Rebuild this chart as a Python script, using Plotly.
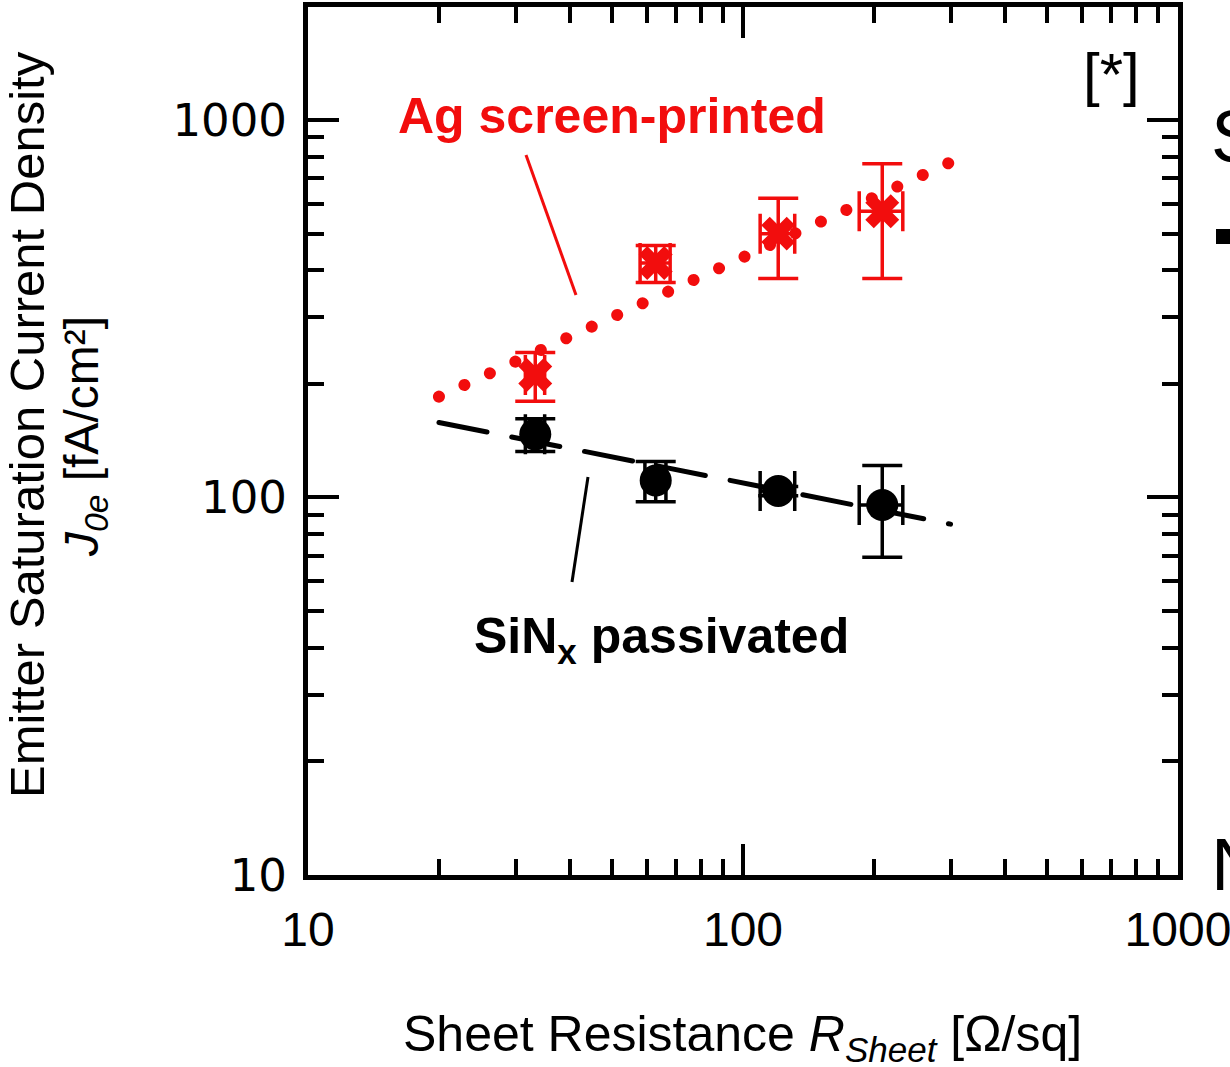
import plotly.graph_objects as go

# Sheet resistance of the four emitters [Ohm/sq]
rsheet = [33.3, 63.0, 120.5, 209.0]

# SiNx-passivated emitters
j0e_sinx = [147, 111, 104, 95.5]
j0e_sinx_err = [14.7, 13.5, 3, 26]
rsheet_err_sinx = [1.7, 3.5, 11, 24]

# Ag screen-printed (metallised) emitters
j0e_ag = [211, 418, 500, 573]
j0e_ag_err = [31, 47, 120, 193]
rsheet_err_ag = [1.7, 5, 11, 24]

# Power-law trend lines (end points)
fit_rsheet = [20, 300]
fit_ag = [185, 773]
fit_sinx = [158, 85]

RED = "#f20d0d"
BLACK = "#000000"

W, H = 1230, 1067
ML, MR, MT, MB = 308, 52, 7, 192
PW, PH = W - ML - MR, H - MT - MB


def px(x, y):
    """Pixel position on the page -> paper coordinates."""
    return (x - ML) / PW, (H - MB - y) / PH


fig = go.Figure()

# trend lines
fig.add_trace(go.Scatter(
    x=fit_rsheet, y=fit_ag, mode="lines",
    line=dict(color=RED, width=12, dash="0.01px,28px"),
    hoverinfo="skip", showlegend=False))
fig.add_trace(go.Scatter(
    x=fit_rsheet, y=fit_sinx, mode="lines",
    line=dict(color=BLACK, width=5, dash="49px,25.2px"),
    hoverinfo="skip", showlegend=False))

# measured data
fig.add_trace(go.Scatter(
    x=rsheet, y=j0e_sinx, mode="markers", name="SiNx passivated",
    marker=dict(symbol="circle", size=32, color=BLACK),
    error_y=dict(type="data", array=j0e_sinx_err, color=BLACK, thickness=3.5, width=20),
    error_x=dict(type="data", array=rsheet_err_sinx, color=BLACK, thickness=3.5, width=20),
    showlegend=False))
fig.add_trace(go.Scatter(
    x=rsheet, y=j0e_ag, mode="markers", name="Ag screen-printed",
    marker=dict(symbol="x", size=30, color=RED, line=dict(width=0)),
    error_y=dict(type="data", array=j0e_ag_err, color=RED, thickness=3.5, width=20),
    error_x=dict(type="data", array=rsheet_err_ag, color=RED, thickness=3.5, width=20),
    showlegend=False))

axis_common = dict(
    type="log",
    showline=True, linewidth=5, linecolor=BLACK,
    mirror="ticks",
    ticks="inside", ticklen=31, tickwidth=4, tickcolor=BLACK,
    minor=dict(ticks="inside", ticklen=16, tickwidth=4, tickcolor=BLACK, dtick="D1"),
    showgrid=False, zeroline=False,
    dtick=1,
    ticklabeloverflow="allow",
    automargin=False,
)

fig.update_xaxes(
    **axis_common,
    range=[1, 3],
    tickvals=[10, 100, 1000], ticktext=["10", "100", "1000"],
    tickfont=dict(family="Liberation Sans, Arial", size=48, color=BLACK),
    ticklabelstandoff=8,
)
fig.update_yaxes(
    **axis_common,
    range=[1, 3.2993],
    tickvals=[10, 100, 1000], ticktext=["10", "100", "1000"],
    tickfont=dict(family="DejaVu Sans, Verdana", size=45, color=BLACK),
    ticklabelstandoff=7,
)

ann = []


def add_text(text, x, y, size, color=BLACK, xanchor="center", angle=0, family="Liberation Sans, Arial"):
    xp, yp = px(x, y)
    ann.append(dict(text=text, x=xp, y=yp, xref="paper", yref="paper",
                    xanchor=xanchor, yanchor="middle", showarrow=False,
                    textangle=angle, font=dict(family=family, size=size, color=color)))


add_text("<b>Ag screen-printed</b>", 612, 116, 50, RED)
add_text("<b>SiN<sub>x</sub> passivated</b>", 661, 639, 50)
add_text("[*]", 1111, 74, 60)

# axis titles
add_text("Emitter Saturation Current Density", 27, 425, 49, angle=-90)
add_text("<i>J</i><sub><i>0e</i></sub> [fA/cm²]", 85, 437, 48, angle=-90)
add_text("Sheet Resistance <i>R</i><sub><i>Sheet</i></sub> [Ω/sq]", 742, 1037, 50)

# neighbouring slide text running off the right edge
add_text("S", 1209, 136, 74, xanchor="left")
add_text("N", 1209, 864, 74, xanchor="left")

shapes = []
# leader lines from the labels to the curves
for (x0, y0, x1, y1, c) in [(526, 155, 576, 295, RED), (588, 477, 572, 582, BLACK)]:
    a0, b0 = px(x0, y0)
    a1, b1 = px(x1, y1)
    shapes.append(dict(type="line", xref="paper", yref="paper", x0=a0, y0=b0, x1=a1, y1=b1,
                       line=dict(color=c, width=3)))
# bullet of the neighbouring slide text
a0, b0 = px(1216, 244)
a1, b1 = px(1232, 229)
shapes.append(dict(type="rect", xref="paper", yref="paper", x0=a0, y0=b0, x1=a1, y1=b1,
                   fillcolor=BLACK, line=dict(width=0)))

fig.update_layout(
    width=W, height=H,
    margin=dict(l=ML, r=MR, t=MT, b=MB, pad=0, autoexpand=False),
    paper_bgcolor="white", plot_bgcolor="white",
    annotations=ann, shapes=shapes,
    showlegend=False,
)

# round line caps so the dotted trend line is drawn as round dots
post = """
var gd = document.getElementById('{plot_id}');
gd.querySelectorAll('.scatterlayer path.js-line').forEach(function(p){
  p.style.strokeLinecap = 'round';
});
"""

fig.write_html("out.html", post_script=post)
